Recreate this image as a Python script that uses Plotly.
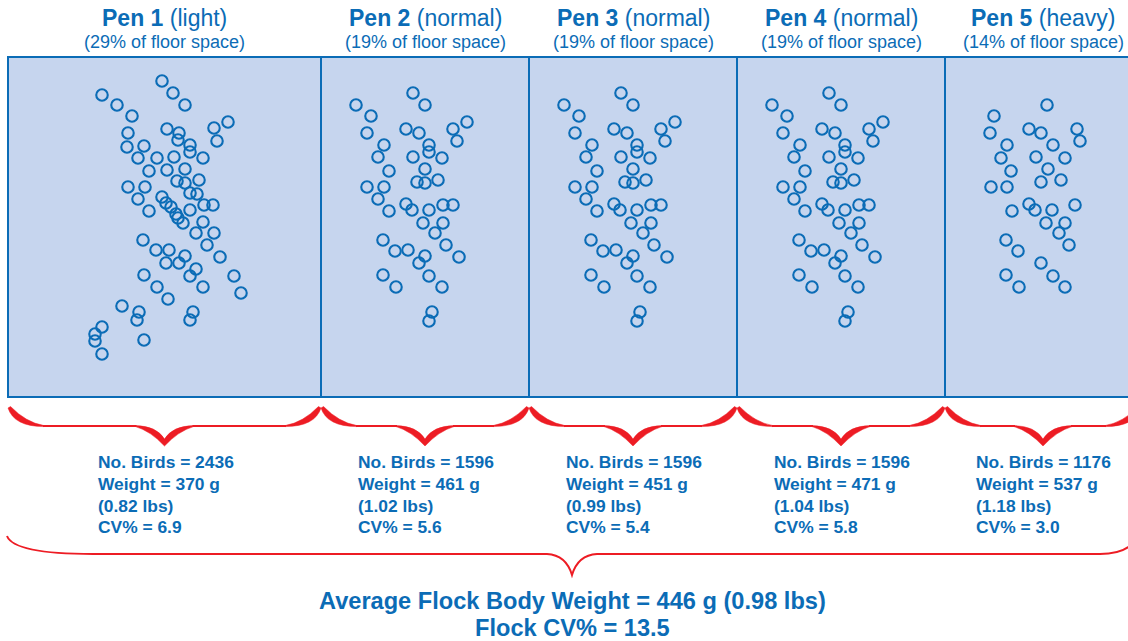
import plotly.graph_objects as go

# Pen summary
pen_labels = ["Pen 1", "Pen 2", "Pen 3", "Pen 4", "Pen 5"]
pen_kinds = ["light", "normal", "normal", "normal", "heavy"]
floor_space_pct = [29, 19, 19, 19, 14]
no_birds = [2436, 1596, 1596, 1596, 1176]
weight_g = [370, 461, 451, 471, 537]
weight_lbs = [0.82, 1.02, 0.99, 1.04, 1.18]
cv_pct = [6.9, 5.6, 5.4, 5.8, 3.0]

flock_weight_g = 446
flock_weight_lbs = 0.98
flock_cv_pct = 13.5

# Bird positions inside a pen: x from the pen's left wall, y from the top of the picture
light_x = [154, 94, 165, 109, 177, 124, 220, 206, 159, 171, 120, 209, 170, 182, 136, 119, 182, 130,
           149, 166, 195, 177, 141, 159, 169, 177, 191, 120, 137, 182, 189, 130, 154, 158, 163, 168,
           196, 205, 182, 141, 175, 170, 195, 188, 206, 199, 135, 148, 161, 158, 171, 177, 188, 182,
           212, 136, 149, 195, 226, 233, 160, 114, 131, 129, 185, 182, 94, 87, 87, 136, 94]
light_y = [81, 95, 93, 105, 105, 116, 122, 128, 129, 133, 133, 141, 140, 145, 146, 147, 152, 158,
           158, 157, 158, 169, 171, 170, 181, 183, 180, 187, 187, 193, 194, 199, 197, 203, 207, 214,
           205, 205, 210, 211, 223, 218, 222, 233, 233, 245, 240, 250, 250, 263, 263, 256, 269, 276,
           257, 275, 287, 287, 276, 293, 299, 306, 312, 320, 312, 320, 327, 334, 341, 340, 354]

normal_x = [92, 35, 104, 50, 146, 85, 132, 98, 46, 136, 63, 108, 108, 57, 92, 121, 68, 104, 96, 104,
            117, 46, 63, 57, 85, 91, 68, 108, 122, 132, 102, 122, 114, 125, 62, 74, 87, 104, 98, 138,
            62, 108, 75, 121, 111, 108]
normal_y = [93, 105, 105, 116, 122, 129, 129, 133, 133, 141, 145, 145, 152, 157, 157, 158, 171, 169,
            182, 183, 180, 187, 187, 199, 204, 210, 211, 210, 205, 205, 223, 223, 233, 245, 240, 251,
            250, 256, 263, 257, 275, 276, 287, 287, 312, 321]

heavy_x = [102, 49, 45, 84, 96, 132, 135, 108, 62, 56, 91, 120, 66, 103, 96, 116, 46, 62, 84, 90,
           67, 107, 130, 101, 120, 114, 124, 61, 73, 96, 61, 108, 74, 120]
heavy_y = [105, 116, 133, 129, 133, 129, 141, 145, 145, 158, 157, 158, 171, 169, 182, 180, 187, 187,
           204, 210, 211, 210, 205, 223, 223, 233, 245, 240, 251, 263, 275, 276, 287, 287]

pen_birds = [(light_x, light_y), (normal_x, normal_y), (normal_x, normal_y),
             (normal_x, normal_y), (heavy_x, heavy_y)]

# layout of the drawing
W, H = 1128, 641
PEN_EDGES = [8, 321, 529, 737, 945, 1141]
BOX_TOP, BOX_BOTTOM = 57, 397
BLUE = "#0b6cb6"
FILL = "#c6d5ee"
RED = "#ed1c24"
FONT = "Liberation Sans, Arial, Helvetica, sans-serif"


def brace_shapes(L, R, top=407, mid=426, tip=446):
    C = (L + R) / 2
    paths = [
        # left hook
        f"M {L},{top+1} Q {L+6},{mid+0.5} {L+36},{mid+0.6} L {L+36},{mid-0.4} "
        f"Q {L+18},{mid-3.5} {L+2.5},{top-0.5} Z",
        # right hook
        f"M {R},{top+1} Q {R-6},{mid+0.5} {R-36},{mid+0.6} L {R-36},{mid-0.4} "
        f"Q {R-18},{mid-3.5} {R-2.5},{top-0.5} Z",
        # centre point
        f"M {C-29},{mid+0.6} Q {C-14},{mid+5} {C},{tip} Q {C+14},{mid+5} {C+29},{mid+0.6} "
        f"L {C+29},{mid-0.4} Q {C+8},{mid} {C},{tip-7} Q {C-8},{mid} {C-29},{mid-0.4} Z",
    ]
    shapes = [dict(type="path", path=p, xref="x", yref="y", fillcolor=RED,
                   line=dict(color=RED, width=0.5)) for p in paths]
    for a, b in [(L + 35, C - 28), (C + 28, R - 35)]:
        shapes.append(dict(type="line", x0=a, x1=b, y0=mid, y1=mid, xref="x", yref="y",
                           line=dict(color=RED, width=1.8)))
    return shapes


fig = go.Figure()
shapes = []
annotations = []

for i in range(5):
    left, right = PEN_EDGES[i], PEN_EDGES[i + 1]
    centre = (left + right) / 2
    shapes.append(dict(type="rect", x0=left, x1=right, y0=BOX_TOP, y1=BOX_BOTTOM,
                       xref="x", yref="y", layer="below", fillcolor=FILL,
                       line=dict(color=BLUE, width=2)))
    bx, by = pen_birds[i]
    fig.add_trace(go.Scatter(
        x=[left + v for v in bx], y=by, mode="markers",
        marker=dict(symbol="circle-open", size=11.5, color=BLUE, line=dict(width=2.1, color=BLUE)),
        hoverinfo="skip", showlegend=False
    ))
    shapes += brace_shapes(left, right)

    annotations.append(dict(x=centre, y=18, text=f"<b>{pen_labels[i]}</b> ({pen_kinds[i]})",
                            font=dict(size=23, color=BLUE)))
    annotations.append(dict(x=centre, y=41.5, text=f"({floor_space_pct[i]}% of floor space)",
                            font=dict(size=18, color=BLUE)))
    lines = [f"No. Birds = {no_birds[i]}", f"Weight = {weight_g[i]} g",
             f"({weight_lbs[i]:.2f} lbs)", f"CV% = {cv_pct[i]:.1f}"]
    for txt, yy in zip(lines, [462, 484, 505.5, 526.5]):
        annotations.append(dict(x=centre - 69, y=yy, xanchor="left", text=f"<b>{txt}</b>",
                                font=dict(size=17.4, color=BLUE)))

# big brace under all pens
shapes.append(dict(type="path", xref="x", yref="y", line=dict(color=RED, width=2),
                   path="M 7,536 Q 14,554 93,554 L 547,554 Q 566,555 572,575 "
                        "Q 578,555 597,554 L 1100,554 Q 1130,554 1137,536"))

annotations.append(dict(x=572, y=601,
                        text=f"<b>Average Flock Body Weight = {flock_weight_g} g ({flock_weight_lbs:.2f} lbs)</b>",
                        font=dict(size=23.6, color=BLUE)))
annotations.append(dict(x=572, y=628, text=f"<b>Flock CV% = {flock_cv_pct}</b>",
                        font=dict(size=23.6, color=BLUE)))

for a in annotations:
    a.setdefault("xanchor", "center")
    a.update(xref="x", yref="y", yanchor="middle", showarrow=False)

fig.update_layout(
    width=W, height=H, autosize=False,
    margin=dict(l=0, r=0, t=0, b=0, pad=0),
    paper_bgcolor="white", plot_bgcolor="white",
    font=dict(family=FONT),
    xaxis=dict(range=[0, W], visible=False, fixedrange=True),
    yaxis=dict(range=[H, 0], visible=False, fixedrange=True),
    shapes=shapes, annotations=annotations,
)

fig.write_html("out.html", config={"displayModeBar": False},
               post_script="document.body.style.margin='0';document.body.style.overflow='hidden';")
